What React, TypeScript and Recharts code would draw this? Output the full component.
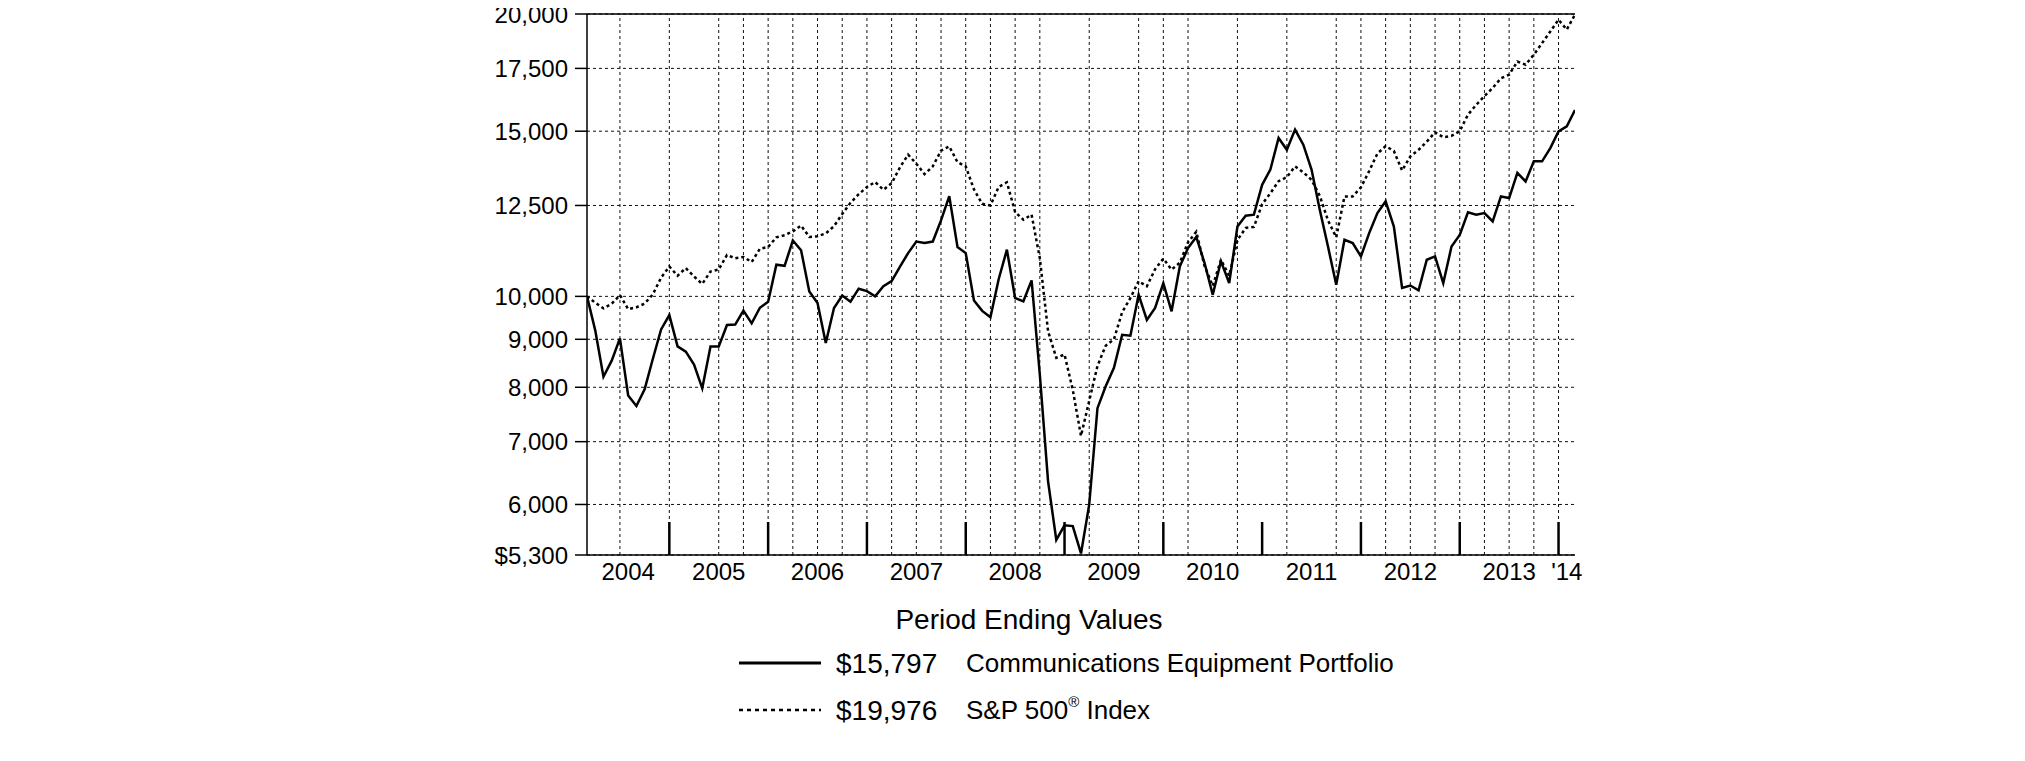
import React from 'react';
import { LineChart, Line, XAxis, YAxis, CartesianGrid, ReferenceLine } from 'recharts';

// Month-end values, Feb 2004 (index 0) through Feb 2014 (index 120)
const portfolio = [
  10000, 9200, 8210, 8540, 9020, 7840, 7640, 7960, 8580, 9220, 9550,
  8845, 8730, 8460, 7980, 8840, 8840, 9320, 9330, 9655, 9360, 9725, 9870,
  10810, 10780, 11470, 11200, 10120, 9840, 8920, 9720, 10020, 9870, 10190, 10130,
  10000, 10250, 10380, 10750, 11120, 11440, 11400, 11440, 12050, 12790, 11290, 11120,
  9900, 9650, 9500, 10430, 11214, 9960, 9880, 10400, 8250, 6350, 5500, 5700,
  5690, 5320, 6000, 7600, 8020, 8390, 9100, 9080, 10040, 9440, 9720, 10330,
  9640, 10760, 11260, 11570, 10860, 10040, 10900, 10330, 11870, 12190, 12220, 13150,
  13650, 14750, 14330, 15060, 14510, 13650, 12370, 11300, 10290, 11490, 11400, 11030,
  11680, 12270, 12630, 11870, 10210, 10270, 10150, 10940, 11030, 10330, 11300, 11630,
  12290, 12220, 12270, 12020, 12780, 12730, 13540, 13260, 13930, 13930, 14390, 14990,
  15180, 15797,
];

const sp500 = [
  10000, 9845, 9710, 9820, 10030, 9690, 9735, 9825, 10050, 10470, 10760,
  10520, 10720, 10500, 10310, 10630, 10680, 11070, 10980, 11015, 10880, 11240, 11290,
  11560, 11620, 11730, 11900, 11570, 11590, 11670, 11880, 12240, 12580, 12850, 13080,
  13240, 12990, 13200, 13720, 14160, 13850, 13500, 13760, 14300, 14450, 13900, 13760,
  13000, 12550, 12500, 13080, 13230, 12300, 12070, 12220, 10980, 9180, 8600, 8670,
  7950, 7100, 7740, 8430, 8860, 9000, 9620, 9960, 10380, 10250, 10690, 10970,
  10680, 10860, 11420, 11720, 10780, 10260, 10940, 10520, 11480, 11830, 11860, 12540,
  12880, 13270, 13400, 13760, 13560, 13310, 12800, 12050, 11560, 12780, 12780, 13070,
  13600, 14200, 14460, 14290, 13620, 14100, 14330, 14620, 14960, 14780, 14830, 15000,
  15620, 16000, 16350, 16680, 17080, 17230, 17800, 17660, 18100, 18620, 19160, 19720,
  19250, 19976,
];

const yearLabels = ['2004', '2005', '2006', '2007', '2008', '2009', '2010', '2011', '2012', '2013', "'14"];
// month index of each December year-end
const yearEnds = [10, 22, 34, 46, 58, 70, 82, 94, 106, 118];
// month indices carrying a vertical dotted grid line
const gridMonths = [4, 10, 16, 19, 22, 25, 28, 31, 34, 37, 40, 43, 46, 49, 52, 55, 61, 67, 70, 73, 79, 85, 91, 94, 97, 100, 103, 106, 109, 112, 115, 118];
const yTicks = [5300, 6000, 7000, 8000, 9000, 10000, 12500, 15000, 17500, 20000];

const lastIndex = portfolio.length - 1;
const data = portfolio.map((v, i) => ({ i, portfolio: v, sp500: sp500[i] }));

const bounds = [0, ...yearEnds, lastIndex];
const labelPos = yearLabels.map((_, k) => (bounds[k] + bounds[k + 1]) / 2);
const xTicks = [...labelPos, ...yearEnds].sort((a, b) => a - b);

const FONT = '"Liberation Sans", Arial, Helvetica, sans-serif';

const fmtY = (v: number) => (v === yTicks[0] ? '$' : '') + v.toLocaleString('en-US');
const fmtMoney = (v: number) => '$' + v.toLocaleString('en-US');

const XTick = (props: any) => {
  const { x, y, payload } = props;
  const v = payload.value;
  if (yearEnds.includes(v)) {
    const axisY = y - 8;
    return <line x1={x} x2={x} y1={axisY} y2={axisY - 33} stroke="#000" strokeWidth={2.5} />;
  }
  const k = labelPos.indexOf(v);
  return (
    <text x={x} y={y} dy="0.71em" textAnchor="middle" fontFamily={FONT} fontSize={24} fill="#000">
      {yearLabels[k]}
    </text>
  );
};

export default function App() {
  return (
    <div style={{ position: 'relative', top: -8, width: 2009, height: 761 }}>
      <LineChart
        width={2009}
        height={761}
        data={data}
        margin={{ top: 14, right: 442, bottom: 176, left: 479 }}
      >
        <CartesianGrid vertical={false} stroke="#111" strokeDasharray="3 3" strokeWidth={1} />
        {gridMonths.map((m) => (
          <ReferenceLine key={m} x={m} stroke="#111" strokeDasharray="3 3" strokeWidth={1} />
        ))}
        <ReferenceLine y={yTicks[yTicks.length - 1]} stroke="#000" strokeWidth={1.5} />
        <XAxis
          dataKey="i"
          type="number"
          domain={[0, lastIndex]}
          ticks={xTicks}
          interval={0}
          allowDataOverflow
          tickLine={false}
          axisLine={{ stroke: '#000', strokeWidth: 1.5 }}
          tick={(p: any) => <XTick {...p} />}
          height={30}
        />
        <YAxis
          type="number"
          scale="log"
          domain={[yTicks[0], yTicks[yTicks.length - 1]]}
          allowDataOverflow
          ticks={yTicks}
          interval={0}
          width={100}
          tickSize={12}
          tickMargin={7}
          tickFormatter={fmtY}
          axisLine={{ stroke: '#000', strokeWidth: 1.5 }}
          tickLine={{ stroke: '#000', strokeWidth: 1.5 }}
          tick={{ fill: '#000', fontSize: 24, fontFamily: FONT }}
        />
        <Line
          type="linear"
          dataKey="sp500"
          stroke="#000"
          strokeWidth={2.5}
          strokeDasharray="3 3"
          dot={false}
          activeDot={false}
          isAnimationActive={false}
        />
        <Line
          type="linear"
          dataKey="portfolio"
          stroke="#000"
          strokeWidth={2.5}
          dot={false}
          activeDot={false}
          isAnimationActive={false}
        />
      </LineChart>
      <svg
        width={2009}
        height={761}
        style={{ position: 'absolute', left: 0, top: 0, pointerEvents: 'none' }}
      >
        <text x={1021} y={619} textAnchor="middle" dominantBaseline="central" fontFamily={FONT} fontSize={28} fill="#000">
          Period Ending Values
        </text>
        <line x1={731} x2={813} y1={663} y2={663} stroke="#000" strokeWidth={3} />
        <text x={828} y={663} dominantBaseline="central" fontFamily={FONT} fontSize={28} fill="#000">
          {fmtMoney(portfolio[lastIndex])}
        </text>
        <text x={958} y={663} dominantBaseline="central" fontFamily={FONT} fontSize={26} fill="#000">
          Communications Equipment Portfolio
        </text>
        <line x1={731} x2={813} y1={710} y2={710} stroke="#000" strokeWidth={2.5} strokeDasharray="4 4" />
        <text x={828} y={710} dominantBaseline="central" fontFamily={FONT} fontSize={28} fill="#000">
          {fmtMoney(sp500[lastIndex])}
        </text>
        <text x={958} y={710} dominantBaseline="central" fontFamily={FONT} fontSize={26} fill="#000">
          S&amp;P 500<tspan fontSize={15} dy={-9}>®</tspan><tspan dy={9}> Index</tspan>
        </text>
      </svg>
    </div>
  );
}
